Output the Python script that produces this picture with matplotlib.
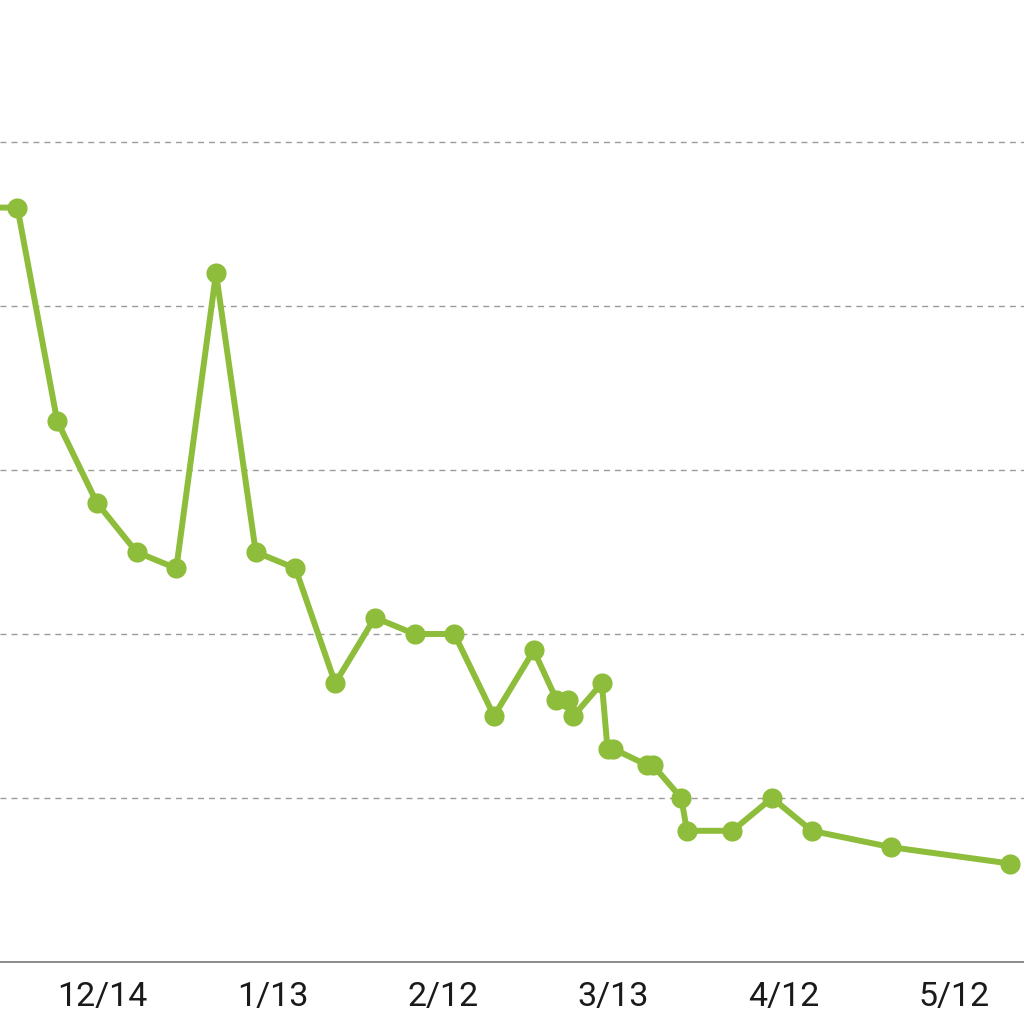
import matplotlib
matplotlib.use('Agg')
import matplotlib.pyplot as plt
import numpy as np
from datetime import datetime, timedelta

# weekly weigh-ins (kg)
dates = ['2019-11-22', '2019-11-29', '2019-12-06', '2019-12-13', '2019-12-20',
         '2019-12-27', '2020-01-03', '2020-01-10', '2020-01-17', '2020-01-24',
         '2020-01-31', '2020-02-07', '2020-02-14', '2020-02-21', '2020-02-28',
         '2020-03-03', '2020-03-05', '2020-03-06', '2020-03-11', '2020-03-12',
         '2020-03-13', '2020-03-19', '2020-03-20', '2020-03-25', '2020-03-26',
         '2020-04-03', '2020-04-10', '2020-04-17', '2020-05-01', '2020-05-22']
weights = [64.6, 64.6, 63.3, 62.8, 62.5,
           62.4, 64.2, 62.5, 62.4, 61.7,
           62.1, 62.0, 62.0, 61.5, 61.9,
           61.6, 61.6, 61.5, 61.7, 61.3,
           61.3, 61.2, 61.2, 61.0, 60.8,
           60.8, 61.0, 60.8, 60.7, 60.6]
tick_dates = ['2019-12-14', '2020-01-13', '2020-02-12', '2020-03-13', '2020-04-12', '2020-05-12']
tick_labels = ['12/14', '1/13', '2/12', '3/13', '4/12', '5/12']
grid_levels = [61, 62, 63, 64, 65]

x = [datetime.strptime(d, '%Y-%m-%d') for d in dates]
ticks = [datetime.strptime(d, '%Y-%m-%d') for d in tick_dates]

green = '#8dbd3a'

fig = plt.figure(figsize=(10.24, 10.24), dpi=100)
ax = fig.add_axes([0, 62/1024, 1, 962/1024])

for g in grid_levels:
    ax.axhline(g, color='#9a9a9a', lw=1, linestyle=(0, (4.3, 3.6)), zorder=1)

ax.plot(x, weights, color=green, lw=4.3, marker='o', markersize=14.5,
        markeredgewidth=0, zorder=3)

start = ticks[0]
ax.set_xlim(start - timedelta(days=18.07), start + timedelta(days=162.4))
ax.set_ylim(60, 60 + 962/164)

ax.set_xticks(ticks)
ax.set_xticklabels(tick_labels, fontsize=24.5, color='#1a1a1a', family='Roboto')
ax.tick_params(axis='x', length=0, pad=14)
ax.set_yticks([])

for s in ['top', 'left', 'right']:
    ax.spines[s].set_visible(False)
ax.spines['bottom'].set_color('#8a8a8a')
ax.spines['bottom'].set_linewidth(1.4)

fig.savefig('out.png', dpi=100, facecolor='white')
